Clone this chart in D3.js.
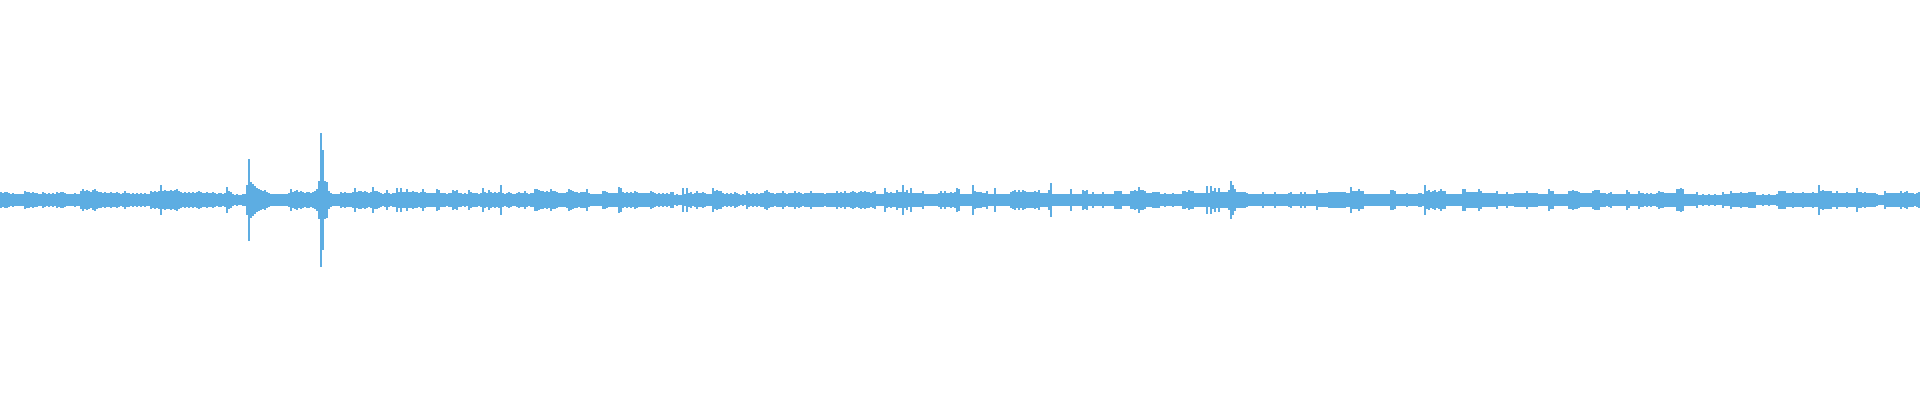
<!DOCTYPE html>
<html>
<head>
<meta charset="utf-8">
<script src="https://cdn.jsdelivr.net/npm/d3@7"></script>
<style>
  html, body { margin: 0; padding: 0; background: #ffffff; }
  svg { display: block; }
</style>
</head>
<body>
<svg id="chart" width="1920" height="400"></svg>
<script>
// Waveform peak amplitude per time bucket (960 buckets, symmetric around zero)
const peaks = [
  8,7,8,8,7,6,7,6,6,6, 6,6,9,8,8,7,8,7,7,6, 6,8,7,6,7,6,7,6,8,7, 8,8,7,6,6,6,6,7,6,6,
  9,11,9,10,9,8,10,11,9,8, 8,7,8,7,7,8,7,7,8,7, 6,7,9,7,7,6,7,6,7,6, 7,6,7,6,6,9,8,9,8,9,
  15,9,10,9,9,10,9,10,11,9, 8,7,8,7,8,7,8,7,8,9, 8,7,7,8,7,7,8,7,6,7, 7,6,7,13,9,8,6,5,6,5,
  5,6,6,15,41,18,16,14,12,11, 10,9,10,8,7,6,6,6,6,6, 6,6,6,6,7,11,8,9,10,8, 9,8,7,8,8,7,8,9,11,19,
  67,50,19,18,9,7,6,6,6,6, 8,7,8,7,7,7,8,12,8,9, 9,8,9,8,7,8,13,9,9,8, 7,6,7,10,7,6,7,7,12,8,
  12,8,8,11,8,8,9,8,8,7, 8,11,8,7,7,7,7,7,11,10, 7,7,7,6,7,7,10,9,10,7, 7,6,7,6,10,8,7,7,7,6,
  7,12,8,7,10,8,7,8,7,8, 15,7,6,7,8,7,6,6,7,8, 7,7,9,7,6,7,7,11,11,10, 9,9,8,9,8,11,9,9,8,7,
  7,7,7,8,11,10,9,8,8,7, 8,8,8,11,7,6,6,6,6,6, 6,9,9,8,7,7,7,7,7,13, 12,8,7,8,7,8,7,9,8,7,
  7,7,7,7,7,9,8,7,6,7, 6,7,6,7,6,8,8,5,6,5, 5,12,6,12,7,8,6,7,9,7, 7,8,7,6,6,6,12,9,10,9,
  9,7,6,7,6,7,6,8,7,6, 5,6,5,9,7,6,7,6,7,6, 7,7,9,10,8,7,7,6,7,7, 7,9,7,6,7,7,7,9,7,8,
  7,6,7,7,7,9,7,7,7,7, 7,7,6,7,7,7,7,7,9,7, 8,7,9,7,7,8,9,8,7,8, 9,8,9,8,8,7,8,9,6,6,
  6,6,12,8,7,8,7,7,10,8, 8,15,8,10,7,12,7,7,7,7, 7,9,6,6,6,6,6,6,6,7, 9,7,9,7,7,8,7,8,12,11,
  6,6,6,6,6,6,15,9,8,8, 8,7,7,9,6,6,6,12,6,6, 6,6,6,6,6,8,9,10,8,10, 8,10,9,8,8,8,8,9,8,10,
  7,7,7,7,10,17,6,6,6,6, 6,6,6,6,6,11,6,6,6,6, 6,10,9,10,6,6,8,6,6,6, 6,8,6,6,6,6,6,9,9,9,
  9,6,6,6,6,9,9,10,9,13, 10,10,9,7,7,7,8,8,8,8, 6,6,7,6,6,6,7,6,6,6, 6,9,9,8,10,9,9,7,7,7,
  7,7,7,14,7,14,9,12,8,12, 8,8,8,8,10,19,15,11,8,8, 8,8,8,7,6,6,6,6,6,6, 6,8,6,6,6,6,6,8,6,6,
  6,6,6,6,7,8,6,6,6,6, 8,6,8,6,6,6,6,6,10,7, 7,7,7,7,8,8,8,8,8,8, 8,8,8,7,7,13,9,9,9,11,
  9,9,6,6,6,6,6,6,6,6, 6,6,6,6,6,10,10,9,6,6, 6,6,6,7,6,6,6,6,6,7, 7,6,15,9,10,8,9,10,8,9,
  11,9,9,6,6,6,6,6,6,6, 6,11,11,8,8,8,8,8,8,11, 9,7,7,7,7,7,7,7,9,6, 6,6,6,8,6,6,6,7,7,7,
  7,7,7,9,7,7,7,7,7,6, 6,6,6,6,11,9,9,6,6,6, 6,6,6,6,9,9,10,9,9,8, 7,7,7,7,7,7,9,10,10,10,
  7,7,7,6,7,8,6,6,6,6, 6,6,6,10,8,6,6,6,6,9, 7,7,6,7,6,7,6,6,7,9, 8,8,7,7,7,7,7,7,11,11,
  12,11,6,6,6,6,6,6,8,5, 5,6,5,5,6,5,5,6,5,5, 5,8,6,6,6,9,7,7,7,7, 8,7,7,7,8,8,8,8,5,5,
  5,6,5,5,6,5,5,5,6,9, 9,9,9,7,7,7,8,7,7,7, 7,8,7,7,7,7,8,7,7,15, 9,10,9,9,9,9,7,7,9,7,
  7,7,7,8,7,7,7,7,12,8, 8,7,8,7,7,7,7,7,6,5, 5,5,9,7,7,7,7,7,7,7, 9,7,8,9,7,7,7,6,7,8
];
const amplitudeDomain = [-200, 200];
const waveColor = "#5DADE2";

const W = 1920, H = 400;
const svg = d3.select("#chart");

const x = d3.scaleLinear().domain([0, peaks.length]).range([0, W]);
const y = d3.scaleLinear().domain(amplitudeDomain).range([H, 0]);

svg.append("g")
  .selectAll("rect")
  .data(peaks)
  .join("rect")
  .attr("x", (d, i) => x(i))
  .attr("width", x(1) - x(0))
  .attr("y", d => y(d))
  .attr("height", d => y(-d) - y(d))
  .attr("fill", waveColor)
  .attr("shape-rendering", "crispEdges");
</script>
</body>
</html>
